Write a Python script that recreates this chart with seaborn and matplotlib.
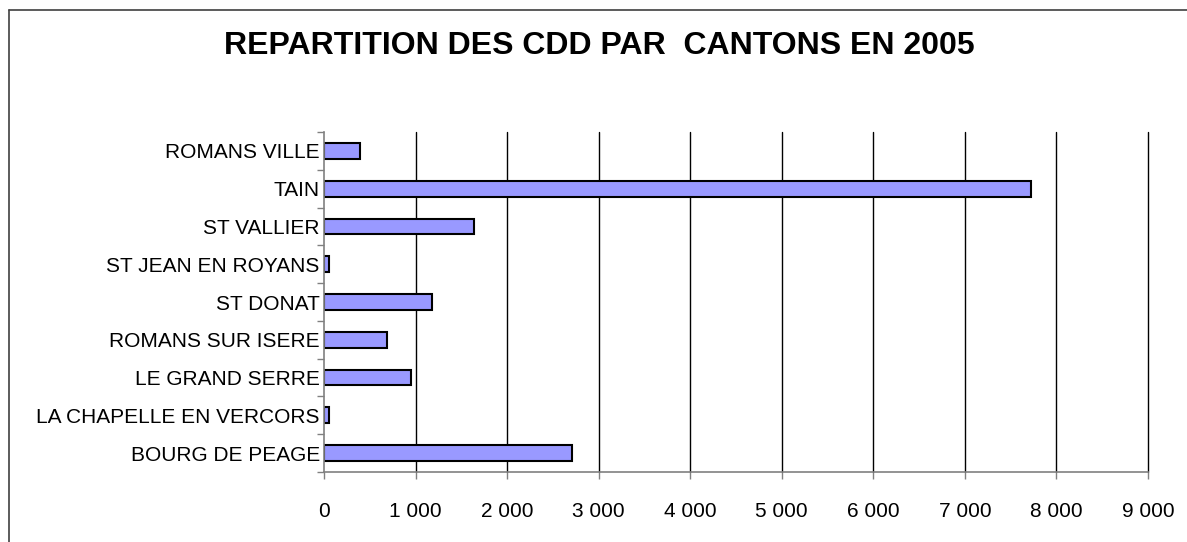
import matplotlib
matplotlib.use("Agg")
import matplotlib.pyplot as plt
import seaborn as sns
import pandas as pd
import numpy as np
from matplotlib.lines import Line2D

cantons = ["ROMANS VILLE", "TAIN", "ST VALLIER", "ST JEAN EN ROYANS", "ST DONAT",
           "ROMANS SUR ISERE", "LE GRAND SERRE", "LA CHAPELLE EN VERCORS", "BOURG DE PEAGE"]
cdd = [395, 7720, 1640, 50, 1185, 685, 945, 50, 2713]
xticks = [0, 1000, 2000, 3000, 4000, 5000, 6000, 7000, 8000, 9000]
xtick_labels = ["0", "1 000", "2 000", "3 000", "4 000", "5 000", "6 000", "7 000", "8 000", "9 000"]
title = "REPARTITION DES CDD PAR  CANTONS EN 2005"

sns.set_style("white")
plt.rcParams["font.family"] = ["Liberation Sans", "DejaVu Sans"]
plt.rcParams["text.color"] = "black"
plt.rcParams["xtick.color"] = "black"
plt.rcParams["ytick.color"] = "black"
plt.rcParams["axes.labelcolor"] = "black"

W, H = 1187, 542
fig = plt.figure(figsize=(W / 100, H / 100), dpi=100)
ax = fig.add_axes([324 / W, 1 - 472 / H, (1148 - 324) / W, (472 - 132) / H])

df = pd.DataFrame({"canton": cantons, "cdd": cdd})
sns.barplot(data=df, x="cdd", y="canton", order=cantons, orient="h",
            color="#9999FF", saturation=1, width=0.42, edgecolor="black",
            linewidth=1.5, ax=ax, zorder=3)

ax.set_xlim(0, 9000)
ax.set_ylim(len(cantons) - 0.5, -0.5)
ax.set_xticks(xticks)
ax.set_xticklabels(xtick_labels, fontsize=15, color="black")
ax.set_yticks(range(len(cantons)))
ax.set_yticklabels(cantons, fontsize=15, color="black")
ax.set_xlabel("")
ax.set_ylabel("")
ax.tick_params(axis="x", length=5, width=1, color="#808080", pad=16.5, direction="out", bottom=True)
ax.tick_params(axis="y", which="major", length=0, pad=3)
ax.set_yticks(np.arange(-0.5, len(cantons), 1), minor=True)
ax.tick_params(axis="y", which="minor", length=5, width=1, color="#808080", direction="out", left=True)
ax.grid(False)
for xv in xticks[1:]:
    ax.axvline(xv, color="black", linewidth=1, zorder=0, clip_on=False)
for s in ["top", "right"]:
    ax.spines[s].set_visible(False)
for s in ["left", "bottom"]:
    ax.spines[s].set_color("#808080")
    ax.spines[s].set_linewidth(1.2)
    ax.spines[s].set_zorder(4)

fig.text(599 / W, 1 - 46 / H, title, ha="center", va="center",
         fontsize=23, fontweight="bold", color="black")

# chart frame (only left and top edges visible)
fig.add_artist(Line2D([9 / W, 9 / W], [1 - 10 / H, 0], transform=fig.transFigure,
                      color="#404040", linewidth=1.2))
fig.add_artist(Line2D([9 / W, 1], [1 - 10 / H, 1 - 10 / H], transform=fig.transFigure,
                      color="#404040", linewidth=1.2))

fig.savefig("out.png", dpi=100)
